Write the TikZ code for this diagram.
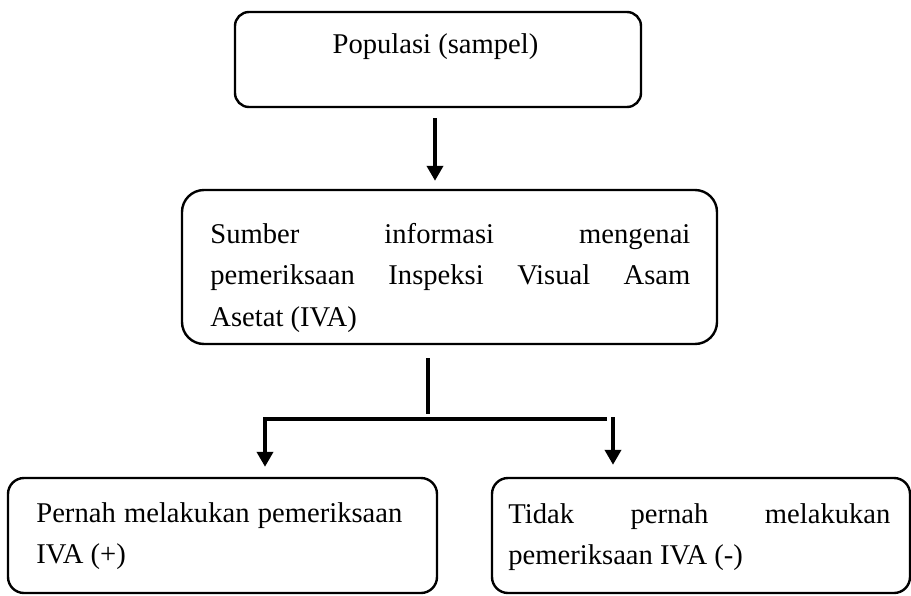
\documentclass[tikz,border=0pt]{standalone}
\usepackage{fontspec}
\setmainfont{Liberation Serif}
\usetikzlibrary{arrows.meta}
\begin{document}
\begin{tikzpicture}
[x=0.5pt,y=-0.5pt,
kotak/.style={draw,black,line width=1.2pt,rounded corners=8pt,inner sep=0pt},
teks/.style={inner sep=0pt,font=\fontsize{14.3}{20.75}\selectfont},
garis/.style={black,line width=2pt},
panah/.style={garis,-{Triangle[width=8pt,length=7.5pt]}}]

\useasboundingbox (0,0) rectangle (911,595);

%draw the boxes
\node[kotak,rounded corners=7pt,minimum width=203pt,minimum height=47.5pt] (populasi) at (438,59.5) {};
\node[kotak,rounded corners=11pt,minimum width=267.5pt,minimum height=77pt] (sumber) at (449.5,267) {};
\node[kotak,minimum width=214.5pt,minimum height=57.5pt] (pernah) at (222.5,535.5) {};
\node[kotak,minimum width=209pt,minimum height=57.5pt] (tidak) at (701,535.5) {};

%draw the texts
\node[teks,anchor=base] (tpopulasi) at (435.5,53) {Populasi (sampel)};
\node[teks,anchor=base west,text width=240pt,align=justify] (tsumber) at (210,243)
{Sumber informasi mengenai\linebreak pemeriksaan Inspeksi Visual Asam\linebreak Asetat (IVA)};
\node[teks,anchor=base west,text width=183pt,align=justify] (tpernah) at (36,522)
{Pernah melakukan pemeriksaan\linebreak IVA (+)};
\node[teks,anchor=base west,text width=191pt,align=justify] (ttidak) at (508,523)
{Tidak pernah melakukan\linebreak pemeriksaan IVA (-)};

%draw the arrows
\coordinate (turun) at (435,0);
\draw[panah,shorten <=5pt,shorten >=4pt] (populasi.south -| turun) -- (sumber.north -| turun);

\coordinate (cabang) at (428,414);
\draw[garis,shorten <=6.5pt] (sumber.south -| cabang) -- (cabang);

\coordinate (kiri) at (265,419);
\coordinate (kanan) at (607,419);
\draw[panah,shorten >=5pt] (kanan) -- (kiri) -- (kiri |- pernah.north);

\coordinate (kanan2) at (613,417);
\draw[panah,shorten >=6pt] (kanan2) -- (kanan2 |- tidak.north);

\end{tikzpicture}
\end{document}
